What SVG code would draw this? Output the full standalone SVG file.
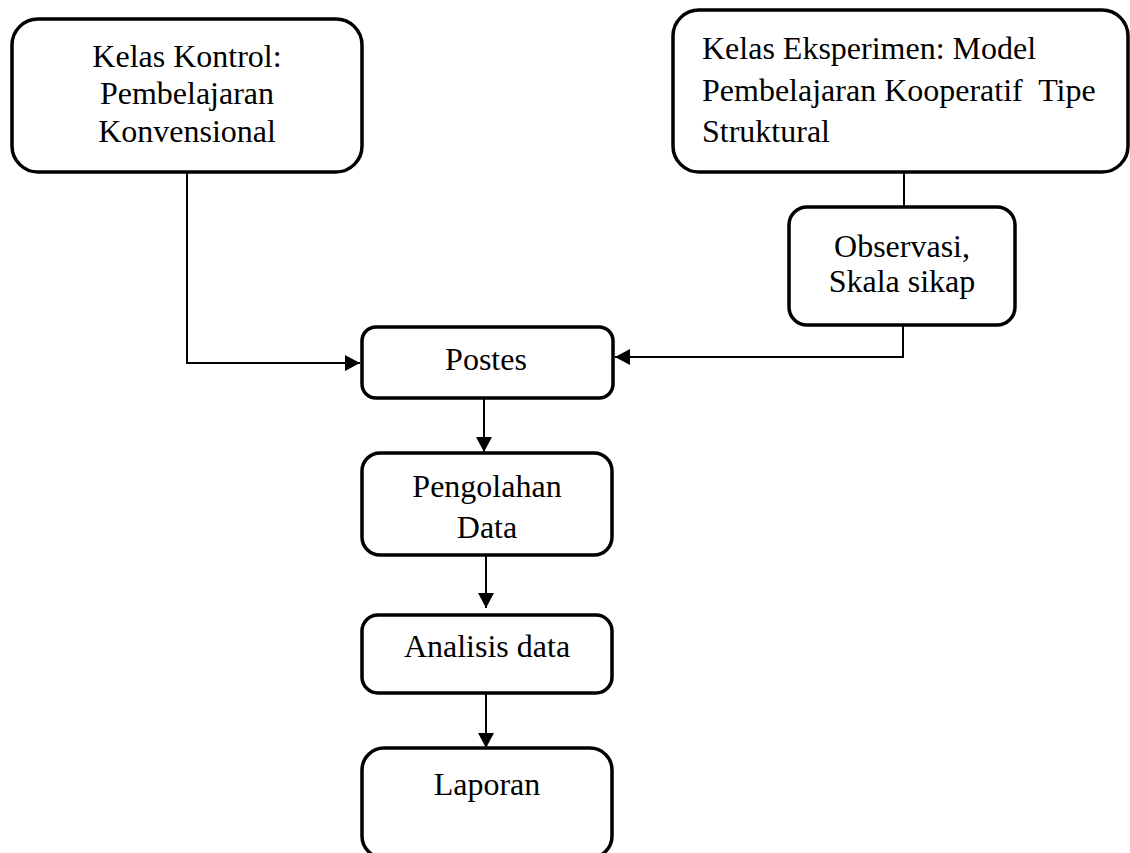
<svg xmlns="http://www.w3.org/2000/svg" width="1130" height="853" viewBox="0 0 1130 853">
<style>
.box{fill:#fff;stroke:#000;stroke-width:3.5}
.ln{fill:none;stroke:#000;stroke-width:2}
</style>
<defs>
<marker id="ah" viewBox="0 0 15 16" refX="15" refY="8" markerWidth="15" markerHeight="16" markerUnits="userSpaceOnUse" orient="auto">
<path d="M0,0 L15,8 L0,16 Z" fill="#000"/>
</marker>
</defs>
<rect width="1130" height="853" fill="#fff"/>
<g id="connectors">
<polyline class="ln" points="187,172 187,363 360,363" marker-end="url(#ah)"/>
<line class="ln" x1="904" y1="172" x2="904" y2="207"/>
<polyline class="ln" points="903,325 903,357 615,357" marker-end="url(#ah)"/>
<line class="ln" x1="484" y1="398" x2="484" y2="452" marker-end="url(#ah)"/>
<line class="ln" x1="486" y1="555" x2="486" y2="608" marker-end="url(#ah)"/>
<line class="ln" x1="486" y1="693" x2="486" y2="748" marker-end="url(#ah)"/>
</g>
<g font-family="Liberation Serif, serif" font-size="32" fill="#000">
<g id="kontrol" text-anchor="middle">
<rect class="box" x="12" y="19" width="350" height="153" rx="26"/>
<text x="187" y="67">Kelas Kontrol:</text>
<text x="187" y="104">Pembelajaran</text>
<text x="187" y="142">Konvensional</text>
</g>
<g id="eksperimen">
<rect class="box" x="673" y="10" width="455" height="162" rx="26"/>
<text x="702" y="59">Kelas Eksperimen: Model</text>
<text x="702" y="101" xml:space="preserve">Pembelajaran Kooperatif  Tipe</text>
<text x="702" y="142">Struktural</text>
</g>
<g id="observasi" text-anchor="middle">
<rect class="box" x="789" y="207" width="226" height="118" rx="18"/>
<text x="902" y="257">Observasi,</text>
<text x="902" y="292">Skala sikap</text>
</g>
<g id="postes" text-anchor="middle">
<rect class="box" x="362" y="327" width="251" height="71" rx="14"/>
<text x="486" y="370">Postes</text>
</g>
<g id="pengolahan" text-anchor="middle">
<rect class="box" x="362" y="453" width="250" height="102" rx="18"/>
<text x="487" y="497">Pengolahan</text>
<text x="487" y="538">Data</text>
</g>
<g id="analisis" text-anchor="middle">
<rect class="box" x="362" y="615" width="250" height="78" rx="16"/>
<text x="487" y="657">Analisis data</text>
</g>
<g id="laporan" text-anchor="middle">
<rect class="box" x="362" y="748" width="250" height="110" rx="22"/>
<text x="487" y="795">Laporan</text>
</g>
</g>
</svg>
